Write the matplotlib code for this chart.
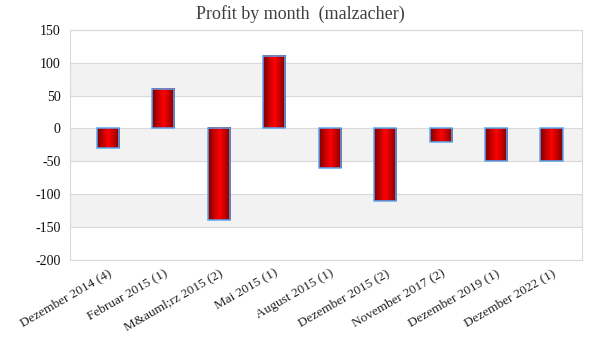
import numpy as np
import matplotlib.pyplot as plt
from matplotlib.colors import LinearSegmentedColormap

# data
labels = ["Dezember 2014 (4)", "Februar 2015 (1)", "M&auml;rz 2015 (2)", "Mai 2015 (1)",
          "August 2015 (1)", "Dezember 2015 (2)", "November 2017 (2)",
          "Dezember 2019 (1)", "Dezember 2022 (1)"]
profit = [-30, 60, -140, 110, -60, -110, -20, -50, -50]
yticks = [150, 100, 50, 0, -50, -100, -150, -200]

plt.rcParams['font.family'] = ['Liberation Serif', 'DejaVu Serif']

fig = plt.figure(figsize=(6, 3.6), dpi=100)
ax = fig.add_axes([0.117, 0.278, 0.853, 0.639])

xlim = (-0.68, 8.55)

# alternating bands
for i, lo in enumerate(range(-200, 150, 50)):
    if i % 2 == 1:
        ax.axhspan(lo, lo + 50, color='#f2f2f2', zorder=0, lw=0)
for y in yticks:
    ax.axhline(y, color='#d9d9d9', lw=0.8, zorder=1)

# gradient bars
cmap = LinearSegmentedColormap.from_list('red', ['#800000', '#ff0000', '#800000'])
grad = np.linspace(0, 1, 64).reshape(1, -1)
w = 0.4
for i, v in enumerate(profit):
    ax.imshow(grad, cmap=cmap, aspect='auto', zorder=2,
              extent=[i - w / 2, i + w / 2, min(0, v), max(0, v)])
    ax.bar(i, v, width=w, facecolor='none', edgecolor='#5aa9f5', lw=1.1, zorder=3)
ax.set_xlim(*xlim)
ax.set_ylim(-200, 150)

ax.set_yticks(yticks)
ax.set_yticklabels([str(t) for t in yticks], fontsize=10, color='#111111')
ax.set_xticks(range(len(labels)))
ax.set_xticklabels(labels, rotation=30, ha='right', rotation_mode='anchor',
                   fontsize=9.5, color='#222222')
ax.tick_params(length=0, pad=7)
ax.tick_params(axis='x', pad=5)
for s in ax.spines.values():
    s.set_color('#d9d9d9')

fig.text(0.5, 0.962, "Profit by month  (malzacher)", ha='center', va='center',
         fontsize=13, color='#404040')

fig.savefig('out.png')
